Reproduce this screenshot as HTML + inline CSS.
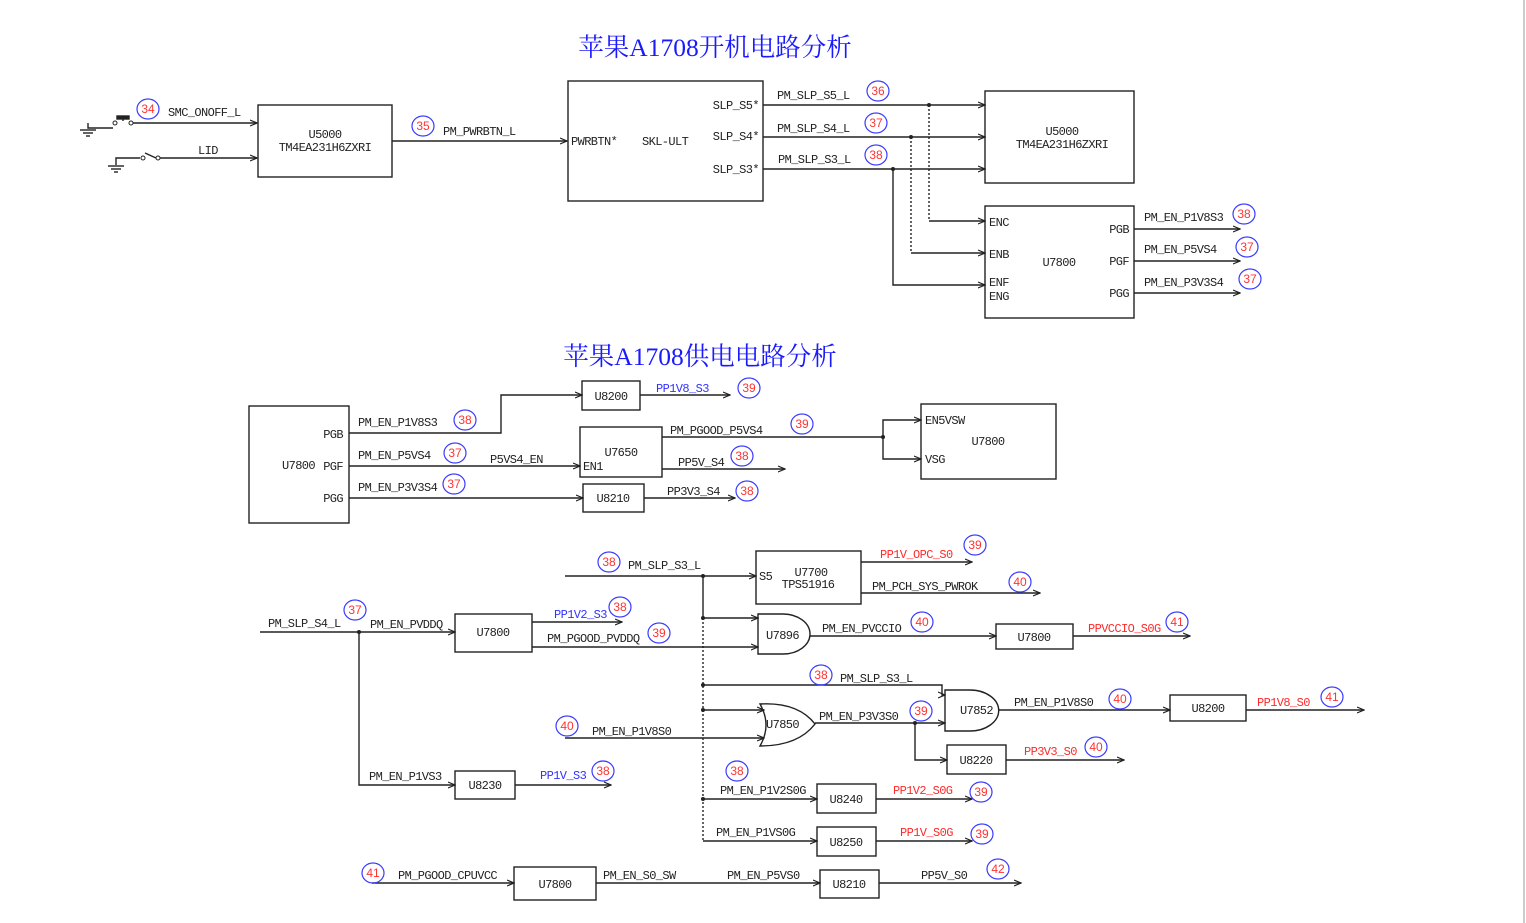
<!DOCTYPE html>
<html><head><meta charset="utf-8"><style>
html,body{margin:0;padding:0;background:#fff;width:1526px;height:923px;overflow:hidden}
svg{display:block}
text{font-family:"Liberation Mono",monospace;font-size:12px;letter-spacing:-0.6px;fill:#222}
.t{font-family:"Liberation Serif","Noto Serif CJK SC",serif;font-size:25.5px;letter-spacing:0;fill:#1a1aff}
.b{fill:#3333ff}.r{fill:#ff2a2a}
.n text{fill:#ff3333;font-family:"Liberation Sans",sans-serif;font-size:12px;letter-spacing:0;text-anchor:middle}
.n ellipse{fill:none;stroke:#3a3aff;stroke-width:1.2}
line,polyline,path,rect{stroke:#222;stroke-width:1.4;fill:none}
.d{stroke-dasharray:2 2}
.m{text-anchor:middle}.e{text-anchor:end}
</style></head><body>
<svg width="1526" height="923" viewBox="0 0 1526 923">
<defs><marker id="a" markerWidth="8" markerHeight="8" refX="7" refY="4" orient="auto" markerUnits="userSpaceOnUse"><path d="M0,1 L7,4 L0,7" style="stroke:#222;stroke-width:1.2;fill:none"/></marker></defs>
<line x1="1524" y1="0" x2="1524" y2="923" style="stroke:#ccc;stroke-width:2"/>
<text class="t m" x="715" y="56">苹果A1708开机电路分析</text>
<text class="t m" x="700" y="365">苹果A1708供电电路分析</text>

<!-- switches -->
<polyline points="88,123 88,128 113,128"/><line x1="80" y1="130" x2="96" y2="130"/><line x1="83" y1="133" x2="93" y2="133"/><line x1="86" y1="136" x2="90" y2="136"/>
<circle cx="115" cy="123" r="2" style="stroke:#222;fill:#fff"/><circle cx="131" cy="123" r="2" style="stroke:#222;fill:#fff"/>
<rect x="117" y="116" width="12" height="3" style="fill:#222"/><line x1="123" y1="119" x2="123" y2="121"/>
<line x1="133" y1="123" x2="257" y2="123" marker-end="url(#a)"/>
<polyline points="116,165 116,158 140,158"/><line x1="108" y1="166" x2="124" y2="166"/><line x1="111" y1="169" x2="121" y2="169"/><line x1="114" y1="172" x2="118" y2="172"/>
<circle cx="143" cy="158" r="2" style="stroke:#222;fill:#fff"/><line x1="145" y1="153" x2="156" y2="158"/><circle cx="158" cy="158" r="2" style="stroke:#222;fill:#fff"/>
<line x1="160" y1="158" x2="257" y2="158" marker-end="url(#a)"/>
<text x="168" y="116">SMC_ONOFF_L</text><text x="198" y="154">LID</text>
<g class="n"><ellipse cx="148" cy="109" rx="11" ry="10"/><text x="148" y="113">34</text></g>
<rect x="258" y="105" width="134" height="72"/><text class="m" x="325" y="138">U5000</text><text class="m" x="325" y="151">TM4EA231H6ZXRI</text>
<line x1="392" y1="141" x2="567" y2="141" marker-end="url(#a)"/>
<g class="n"><ellipse cx="423" cy="126" rx="11" ry="10"/><text x="423" y="130">35</text></g><text x="443" y="135">PM_PWRBTN_L</text>
<rect x="568" y="81" width="195" height="120"/>
<text x="571" y="145">PWRBTN*</text><text x="642" y="145">SKL-ULT</text>
<text class="e" x="759" y="109">SLP_S5*</text><text class="e" x="759" y="140">SLP_S4*</text><text class="e" x="759" y="173">SLP_S3*</text>
<line x1="763" y1="105" x2="985" y2="105" marker-end="url(#a)"/>
<line x1="763" y1="137" x2="985" y2="137" marker-end="url(#a)"/>
<line x1="763" y1="169" x2="985" y2="169" marker-end="url(#a)"/>
<text x="777" y="99">PM_SLP_S5_L</text><text x="777" y="132">PM_SLP_S4_L</text><text x="778" y="163">PM_SLP_S3_L</text>
<g class="n"><ellipse cx="878" cy="91" rx="11" ry="10"/><text x="878" y="95">36</text><ellipse cx="876" cy="123" rx="11" ry="10"/><text x="876" y="127">37</text><ellipse cx="876" cy="155" rx="11" ry="10"/><text x="876" y="159">38</text></g>
<line class="d" x1="929" y1="105" x2="929" y2="221"/><line x1="929" y1="221" x2="985" y2="221" marker-end="url(#a)"/>
<line class="d" x1="911" y1="137" x2="911" y2="253"/><line x1="911" y1="253" x2="985" y2="253" marker-end="url(#a)"/>
<polyline points="893,169 893,285 985,285" marker-end="url(#a)"/>
<circle cx="929" cy="105" r="2" style="fill:#222;stroke:none"/><circle cx="911" cy="137" r="2" style="fill:#222;stroke:none"/><circle cx="893" cy="169" r="2" style="fill:#222;stroke:none"/>
<rect x="985" y="91" width="149" height="92"/><text class="m" x="1062" y="135">U5000</text><text class="m" x="1062" y="148">TM4EA231H6ZXRI</text>
<rect x="985" y="206" width="149" height="112"/>
<text x="989" y="226">ENC</text><text x="989" y="258">ENB</text><text x="989" y="286">ENF</text><text x="989" y="300">ENG</text><text class="m" x="1059" y="266">U7800</text>
<text class="e" x="1129" y="233">PGB</text><text class="e" x="1129" y="265">PGF</text><text class="e" x="1129" y="297">PGG</text>
<line x1="1134" y1="229" x2="1240" y2="229" marker-end="url(#a)"/><line x1="1134" y1="261" x2="1240" y2="261" marker-end="url(#a)"/><line x1="1134" y1="293" x2="1240" y2="293" marker-end="url(#a)"/>
<text x="1144" y="221">PM_EN_P1V8S3</text><text x="1144" y="253">PM_EN_P5VS4</text><text x="1144" y="286">PM_EN_P3V3S4</text>
<g class="n"><ellipse cx="1244" cy="214" rx="11" ry="10"/><text x="1244" y="218">38</text><ellipse cx="1247" cy="247" rx="11" ry="10"/><text x="1247" y="251">37</text><ellipse cx="1250" cy="279" rx="11" ry="10"/><text x="1250" y="283">37</text></g>

<!-- section 2 -->
<rect x="249" y="406" width="100" height="117"/><text x="282" y="469">U7800</text>
<text class="e" x="343" y="438">PGB</text><text class="e" x="343" y="470">PGF</text><text class="e" x="343" y="502">PGG</text>
<polyline points="349,433 501,433 501,395 582,395" marker-end="url(#a)"/>
<text x="358" y="426">PM_EN_P1V8S3</text>
<rect x="582" y="381" width="58" height="29"/><text class="m" x="611" y="400">U8200</text>
<text class="b" x="656" y="392">PP1V8_S3</text><line x1="640" y1="395" x2="730" y2="395" marker-end="url(#a)"/>
<line x1="349" y1="466" x2="580" y2="466" marker-end="url(#a)"/>
<text x="358" y="459">PM_EN_P5VS4</text><text x="490" y="463">P5VS4_EN</text>
<rect x="580" y="427" width="82" height="50"/><text class="m" x="621" y="456">U7650</text><text x="583" y="470">EN1</text>
<line x1="662" y1="437" x2="883" y2="437"/><polyline points="883,437 883,420 921,420" marker-end="url(#a)"/><polyline points="883,437 883,459 921,459" marker-end="url(#a)"/>
<circle cx="883" cy="437" r="2" style="fill:#222;stroke:none"/>
<text x="670" y="434">PM_PGOOD_P5VS4</text>
<line x1="662" y1="469" x2="785" y2="469" marker-end="url(#a)"/><text x="678" y="466">PP5V_S4</text>
<rect x="921" y="404" width="135" height="75"/><text x="925" y="424">EN5VSW</text><text x="925" y="463">VSG</text><text class="m" x="988" y="445">U7800</text>
<line x1="349" y1="498" x2="583" y2="498" marker-end="url(#a)"/><text x="358" y="491">PM_EN_P3V3S4</text>
<rect x="583" y="484" width="61" height="28"/><text class="m" x="613" y="502">U8210</text>
<text x="667" y="495">PP3V3_S4</text><line x1="644" y1="498" x2="735" y2="498" marker-end="url(#a)"/>
<g class="n">
<ellipse cx="465" cy="420" rx="11" ry="10"/><text x="465" y="424">38</text>
<ellipse cx="749" cy="388" rx="11" ry="10"/><text x="749" y="392">39</text>
<ellipse cx="455" cy="453" rx="11" ry="10"/><text x="455" y="457">37</text>
<ellipse cx="802" cy="424" rx="11" ry="10"/><text x="802" y="428">39</text>
<ellipse cx="742" cy="456" rx="11" ry="10"/><text x="742" y="460">38</text>
<ellipse cx="454" cy="484" rx="11" ry="10"/><text x="454" y="488">37</text>
<ellipse cx="747" cy="491" rx="11" ry="10"/><text x="747" y="495">38</text>
</g>

<!-- section 3 -->
<line x1="565" y1="576" x2="756" y2="576" marker-end="url(#a)"/><text x="628" y="569">PM_SLP_S3_L</text>
<rect x="756" y="551" width="105" height="53"/><text x="759" y="580">S5</text><text class="m" x="811" y="576">U7700</text><text class="m" x="808" y="588">TPS51916</text>
<text class="r" x="880" y="558">PP1V_OPC_S0</text><line x1="861" y1="562" x2="972" y2="562" marker-end="url(#a)"/>
<text x="872" y="590">PM_PCH_SYS_PWROK</text><line x1="861" y1="593" x2="1040" y2="593" marker-end="url(#a)"/>
<line x1="703" y1="576" x2="703" y2="618"/><line class="d" x1="703" y1="618" x2="703" y2="841"/>
<line x1="703" y1="618" x2="758" y2="618" marker-end="url(#a)"/>
<path d="M758,614 L783,614 A27,20 0 0 1 783,654 L758,654 Z"/><text x="766" y="639">U7896</text>
<line x1="260" y1="632" x2="455" y2="632" marker-end="url(#a)"/><text x="268" y="627">PM_SLP_S4_L</text><text x="370" y="628">PM_EN_PVDDQ</text>
<rect x="455" y="614" width="77" height="38"/><text class="m" x="493" y="636">U7800</text>
<text class="b" x="554" y="618">PP1V2_S3</text><line x1="532" y1="622" x2="622" y2="622" marker-end="url(#a)"/>
<text x="547" y="642">PM_PGOOD_PVDDQ</text><line x1="532" y1="647" x2="758" y2="647" marker-end="url(#a)"/>
<line x1="810" y1="636" x2="996" y2="636" marker-end="url(#a)"/><text x="822" y="632">PM_EN_PVCCIO</text>
<rect x="996" y="624" width="77" height="25"/><text class="m" x="1034" y="641">U7800</text>
<text class="r" x="1088" y="632">PPVCCIO_S0G</text><line x1="1073" y1="636" x2="1190" y2="636" marker-end="url(#a)"/>
<polyline points="359,632 359,785 455,785" marker-end="url(#a)"/><text x="369" y="780">PM_EN_P1VS3</text>
<rect x="455" y="771" width="60" height="28"/><text class="m" x="485" y="789">U8230</text>
<text class="b" x="540" y="779">PP1V_S3</text><line x1="515" y1="785" x2="611" y2="785" marker-end="url(#a)"/>
<polyline points="703,685 942,685 942,695 945,695" marker-end="url(#a)"/><text x="840" y="682">PM_SLP_S3_L</text>
<line x1="703" y1="710" x2="764" y2="710" marker-end="url(#a)"/>
<line x1="565" y1="738" x2="764" y2="738" marker-end="url(#a)"/><text x="592" y="735">PM_EN_P1V8S0</text>
<path d="M760,704 Q798,702 815,724 Q798,746 760,746 Q772,725 760,704 Z"/><text x="766" y="728">U7850</text>
<line x1="815" y1="723" x2="945" y2="723" marker-end="url(#a)"/><text x="819" y="720">PM_EN_P3V3S0</text>
<path d="M945,690 L970,690 A28,20 0 0 1 970,731 L945,731 Z"/><text x="960" y="714">U7852</text>
<line x1="998" y1="710" x2="1170" y2="710" marker-end="url(#a)"/><text x="1014" y="706">PM_EN_P1V8S0</text>
<rect x="1170" y="695" width="76" height="26"/><text class="m" x="1208" y="712">U8200</text>
<text class="r" x="1257" y="706">PP1V8_S0</text><line x1="1246" y1="710" x2="1364" y2="710" marker-end="url(#a)"/>
<polyline points="915,723 915,760 947,760" marker-end="url(#a)"/>
<rect x="947" y="745" width="59" height="29"/><text class="m" x="976" y="764">U8220</text>
<text class="r" x="1024" y="755">PP3V3_S0</text><line x1="1006" y1="760" x2="1124" y2="760" marker-end="url(#a)"/>
<line x1="703" y1="799" x2="817" y2="799" marker-end="url(#a)"/><text x="720" y="794">PM_EN_P1V2S0G</text>
<rect x="817" y="784" width="59" height="29"/><text class="m" x="846" y="803">U8240</text>
<text class="r" x="893" y="794">PP1V2_S0G</text><line x1="876" y1="799" x2="972" y2="799" marker-end="url(#a)"/>
<line x1="703" y1="841" x2="817" y2="841" marker-end="url(#a)"/><text x="716" y="836">PM_EN_P1VS0G</text>
<rect x="817" y="827" width="59" height="29"/><text class="m" x="846" y="846">U8250</text>
<text class="r" x="900" y="836">PP1V_S0G</text><line x1="876" y1="841" x2="972" y2="841" marker-end="url(#a)"/>
<line x1="372" y1="883" x2="514" y2="883" marker-end="url(#a)"/><text x="398" y="879">PM_PGOOD_CPUVCC</text>
<rect x="514" y="867" width="82" height="33"/><text class="m" x="555" y="888">U7800</text>
<line x1="596" y1="883" x2="820" y2="883" marker-end="url(#a)"/><text x="603" y="879">PM_EN_S0_SW</text><text x="727" y="879">PM_EN_P5VS0</text>
<rect x="820" y="870" width="59" height="28"/><text class="m" x="849" y="888">U8210</text>
<text x="921" y="879">PP5V_S0</text><line x1="879" y1="883" x2="1021" y2="883" marker-end="url(#a)"/>
<g>
<circle cx="703" cy="576" r="2" style="stroke:none;fill:#222"/><circle cx="703" cy="618" r="2" style="stroke:none;fill:#222"/><circle cx="359" cy="632" r="2" style="stroke:none;fill:#222"/>
<circle cx="703" cy="685" r="2" style="stroke:none;fill:#222"/><circle cx="703" cy="710" r="2" style="stroke:none;fill:#222"/><circle cx="915" cy="723" r="2" style="stroke:none;fill:#222"/>
<circle cx="703" cy="799" r="2" style="stroke:none;fill:#222"/>
</g>
<g class="n">
<ellipse cx="609" cy="562" rx="11" ry="10"/><text x="609" y="566">38</text>
<ellipse cx="975" cy="545" rx="11" ry="10"/><text x="975" y="549">39</text>
<ellipse cx="1020" cy="582" rx="11" ry="10"/><text x="1020" y="586">40</text>
<ellipse cx="355" cy="610" rx="11" ry="10"/><text x="355" y="614">37</text>
<ellipse cx="620" cy="607" rx="11" ry="10"/><text x="620" y="611">38</text>
<ellipse cx="659" cy="633" rx="11" ry="10"/><text x="659" y="637">39</text>
<ellipse cx="922" cy="622" rx="11" ry="10"/><text x="922" y="626">40</text>
<ellipse cx="1177" cy="622" rx="11" ry="10"/><text x="1177" y="626">41</text>
<ellipse cx="821" cy="675" rx="11" ry="10"/><text x="821" y="679">38</text>
<ellipse cx="567" cy="726" rx="11" ry="10"/><text x="567" y="730">40</text>
<ellipse cx="921" cy="711" rx="11" ry="10"/><text x="921" y="715">39</text>
<ellipse cx="1120" cy="699" rx="11" ry="10"/><text x="1120" y="703">40</text>
<ellipse cx="1332" cy="697" rx="11" ry="10"/><text x="1332" y="701">41</text>
<ellipse cx="1096" cy="747" rx="11" ry="10"/><text x="1096" y="751">40</text>
<ellipse cx="603" cy="771" rx="11" ry="10"/><text x="603" y="775">38</text>
<ellipse cx="737" cy="771" rx="11" ry="10"/><text x="737" y="775">38</text>
<ellipse cx="981" cy="792" rx="11" ry="10"/><text x="981" y="796">39</text>
<ellipse cx="982" cy="834" rx="11" ry="10"/><text x="982" y="838">39</text>
<ellipse cx="373" cy="873" rx="11" ry="10"/><text x="373" y="877">41</text>
<ellipse cx="998" cy="869" rx="11" ry="10"/><text x="998" y="873">42</text>
</g>
</svg>
</body></html>
